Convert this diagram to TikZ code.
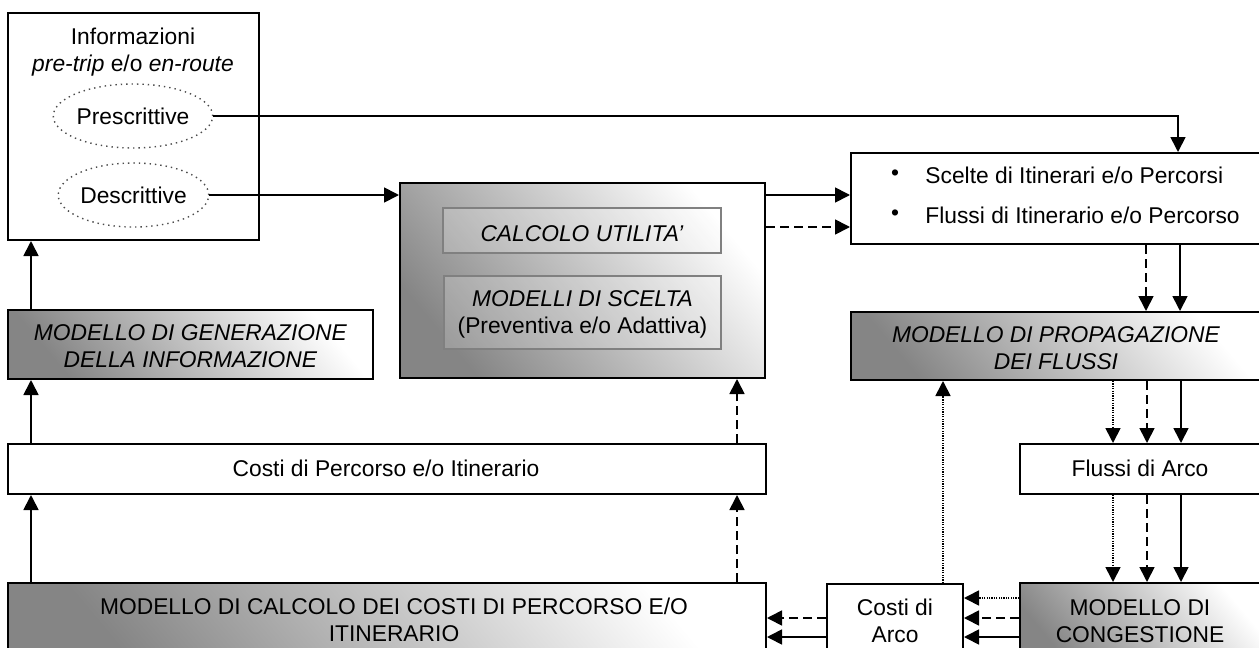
\documentclass[tikz,border=0pt]{standalone}
\usepackage{fontspec}
\setmainfont{Liberation Sans}
\usetikzlibrary{arrows.meta,shapes.geometric}
\begin{document}
\begin{tikzpicture}[x=0.5pt,y=-0.5pt,
  font=\fontsize{11.4}{13.5}\selectfont,
  box/.style={draw,line width=1pt,inner sep=0pt,fill=white},
  shbox/.style={draw,line width=1pt,inner sep=0pt,shading=axis,top color=white,bottom color=black!48,shading angle=-50},
  inbox/.style={draw=black!50,line width=0.8pt,inner sep=0pt,fill=white,fill opacity=0.2,text opacity=1},
  oval/.style={ellipse,draw=black!70,dotted,line width=0.7pt,inner sep=0pt},
  lbl/.style={align=center,inner sep=0pt},
  arr/.style={line width=0.85pt,-{Triangle[length=7.5pt,width=7.5pt]}},
  dsh/.style={dash pattern=on 4.5pt off 2.5pt},
  dts/.style={dash pattern=on 0.6pt off 0.6pt}]
\useasboundingbox (0,0) rectangle (1259,648);
\clip (0,0) rectangle (1259,648);

% boxes
\node[box,minimum width=125.5pt,minimum height=113.5pt] (info) at (133.5,126.5) {};
\node[lbl] (infot) at (133,52.5) {Informazioni\\\textit{pre-trip} e/o \textit{en-route}};
\node[oval,minimum width=70pt,minimum height=32pt] (pres) at (133,116) {Prescrittive};
\node[oval,minimum width=70pt,minimum height=32pt] (desc) at (133.5,195) {Descrittive};

\node[shbox,minimum width=182.5pt,minimum height=97.5pt] (choice) at (582.5,280.5) {};
\node[inbox,minimum width=139pt,minimum height=22.5pt] (calcu) at (582,230.5) {};
\node[lbl] (calcut) at (582,233.5) {\textit{CALCOLO UTILITA’}};
\node[inbox,minimum width=138.5pt,minimum height=36.5pt] (scelta) at (582.5,312.5) {};
\node[lbl] (sceltat) at (582.5,314) {\textit{MODELLI DI SCELTA}\\(Preventiva e/o Adattiva)};

\node[box,minimum width=207pt,minimum height=45.5pt] (scelte) at (1058,198.5) {};
\node[lbl] (b1) at (895,175.5) {•};
\node[lbl] (b2) at (895,215.5) {•};
\node[lbl,anchor=west] (s1) at (925,175.5) {Scelte di Itinerari e/o Percorsi};
\node[lbl,anchor=west] (s2) at (925,215.5) {Flussi di Itinerario e/o Percorso};

\node[shbox,minimum width=207pt,minimum height=34pt] (prop) at (1058,346) {};
\node[lbl] (propt) at (1056,348.5) {\textit{MODELLO DI PROPAGAZIONE}\\\textit{DEI FLUSSI}};

\node[shbox,minimum width=182.5pt,minimum height=34.5pt] (gen) at (190.5,344.5) {};
\node[lbl] (gent) at (190.5,346.5) {\textit{MODELLO DI GENERAZIONE}\\\textit{DELLA INFORMAZIONE}};

\node[box,minimum width=379pt,minimum height=25pt] (costip) at (387,469) {};
\node[lbl] (costipt) at (386,468.5) {Costi di Percorso e/o Itinerario};

\node[shbox,minimum width=379pt,minimum height=38.5pt] (calcc) at (387,621.5) {};
\node[lbl] (calcct) at (394,620) {MODELLO DI CALCOLO DEI COSTI DI PERCORSO E/O\\ITINERARIO};

\node[box,minimum width=68pt,minimum height=38pt] (costia) at (895,622) {};
\node[lbl] (costiat) at (895,621) {Costi di\\Arco};

\node[box,minimum width=122.5pt,minimum height=25pt] (flussi) at (1142.5,469) {};
\node[lbl] (flussit) at (1140,468.5) {Flussi di Arco};

\node[shbox,minimum width=122.5pt,minimum height=38.5pt] (cong) at (1142.5,621.5) {};
\node[lbl] (congt) at (1140,621) {MODELLO DI\\CONGESTIONE};

% connectors
\draw[arr] (pres.east) -| (1178,0 |- scelte.north);
\draw[arr] (desc.east) -- (choice.west |- desc.east);
\draw[arr] (choice.east |- 0,195) -- (scelte.west |- 0,195);
\draw[arr,dsh] (choice.east |- 0,227) -- (scelte.west |- 0,227);
\draw[arr,dsh] (1146,0 |- scelte.south) -- (1146,0 |- prop.north);
\draw[arr] (1180,0 |- scelte.south) -- (1180,0 |- prop.north);
\draw[arr,dts] (1113,0 |- prop.south) -- (1113,0 |- flussi.north);
\draw[arr,dsh] (1147,0 |- prop.south) -- (1147,0 |- flussi.north);
\draw[arr] (1181,0 |- prop.south) -- (1181,0 |- flussi.north);
\draw[arr,dts] (1113,0 |- flussi.south) -- (1113,0 |- cong.north);
\draw[arr,dsh] (1147,0 |- flussi.south) -- (1147,0 |- cong.north);
\draw[arr] (1181,0 |- flussi.south) -- (1181,0 |- cong.north);
\draw[arr,dts] (cong.west |- 0,598) -- (costia.east |- 0,598);
\draw[arr,dsh] (cong.west |- 0,618) -- (costia.east |- 0,618);
\draw[arr] (cong.west |- 0,637) -- (costia.east |- 0,637);
\draw[arr,dsh] (costia.west |- 0,618) -- (calcc.east |- 0,618);
\draw[arr] (costia.west |- 0,637) -- (calcc.east |- 0,637);
\draw[arr,dts] (943,0 |- costia.north) -- (943,0 |- prop.south);
\draw[arr,dsh] (737,0 |- calcc.north) -- (737,0 |- costip.south);
\draw[arr,dsh] (737,0 |- costip.north) -- (737,0 |- choice.south);
\draw[arr] (31,0 |- calcc.north) -- (31,0 |- costip.south);
\draw[arr] (31,0 |- costip.north) -- (31,0 |- gen.south);
\draw[arr] (31,0 |- gen.north) -- (31,0 |- info.south);
\end{tikzpicture}
\end{document}
